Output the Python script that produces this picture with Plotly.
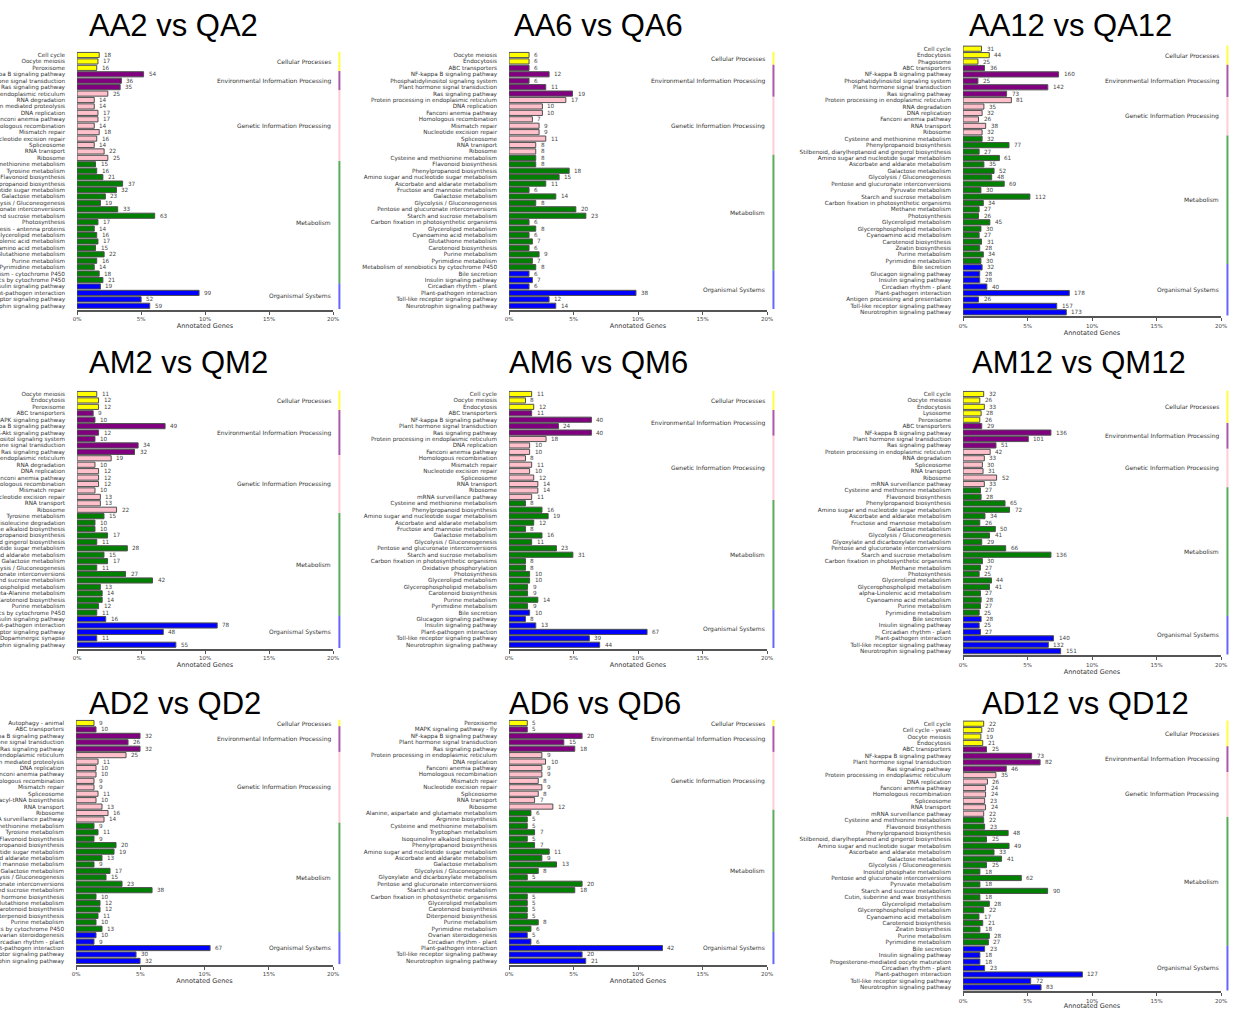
import plotly.graph_objects as go

# ---------------- data ----------------
GROUPS = ["Cellular Processes", "Environmental Information Processing",
          "Genetic Information Processing", "Metabolism", "Organismal Systems"]
BAR_COLORS = ["#FFFF00", "#800080", "#FFC0CB", "#008000", "#0000FF"]
LINE_COLORS = ["rgba(255,255,0,0.75)", "rgba(128,0,128,0.65)", "rgba(255,192,203,0.8)",
               "rgba(0,128,0,0.65)", "rgba(0,0,255,0.6)"]

aa2_labels = ["Cell cycle", "Oocyte meiosis", "Peroxisome", "NF-kappa B signaling pathway",
              "Plant hormone signal transduction", "Ras signaling pathway",
              "Protein processing in endoplasmic reticulum", "RNA degradation",
              "Ubiquitin mediated proteolysis", "DNA replication", "Fanconi anemia pathway",
              "Homologous recombination", "Mismatch repair", "Nucleotide excision repair",
              "Spliceosome", "RNA transport", "Ribosome", "Cysteine and methionine metabolism",
              "Tyrosine metabolism", "Flavonoid biosynthesis", "Phenylpropanoid biosynthesis",
              "Amino sugar and nucleotide sugar metabolism", "Galactose metabolism",
              "Glycolysis / Gluconeogenesis", "Pentose and glucuronate interconversions",
              "Starch and sucrose metabolism", "Photosynthesis", "Photosynthesis - antenna proteins",
              "Glycerolipid metabolism", "alpha-Linolenic acid metabolism",
              "Cyanoamino acid metabolism", "Glutathione metabolism", "Purine metabolism",
              "Pyrimidine metabolism", "Drug metabolism - cytochrome P450",
              "Metabolism of xenobiotics by cytochrome P450", "Insulin signaling pathway",
              "Plant-pathogen interaction", "Toll-like receptor signaling pathway",
              "Neurotrophin signaling pathway"]
aa2_counts = [18, 17, 16, 54, 36, 35, 25, 14, 14, 17, 17, 14, 18, 16, 14, 22, 25, 15, 16, 21,
              37, 32, 23, 19, 33, 63, 17, 14, 16, 17, 15, 22, 16, 14, 18, 21, 19, 99, 52, 59]
aa2_sizes = [3, 3, 11, 19, 4]
aa2_total = 1038

aa6_labels = ["Oocyte meiosis", "Endocytosis", "ABC transporters", "NF-kappa B signaling pathway",
              "Phosphatidylinositol signaling system", "Plant hormone signal transduction",
              "Ras signaling pathway", "Protein processing in endoplasmic reticulum",
              "DNA replication", "Fanconi anemia pathway", "Homologous recombination",
              "Mismatch repair", "Nucleotide excision repair", "Spliceosome", "RNA transport",
              "Ribosome", "Cysteine and methionine metabolism", "Flavonoid biosynthesis",
              "Phenylpropanoid biosynthesis", "Amino sugar and nucleotide sugar metabolism",
              "Ascorbate and aldarate metabolism", "Fructose and mannose metabolism",
              "Galactose metabolism", "Glycolysis / Gluconeogenesis",
              "Pentose and glucuronate interconversions", "Starch and sucrose metabolism",
              "Carbon fixation in photosynthetic organisms", "Glycerolipid metabolism",
              "Cyanoamino acid metabolism", "Glutathione metabolism", "Carotenoid biosynthesis",
              "Purine metabolism", "Pyrimidine metabolism",
              "Metabolism of xenobiotics by cytochrome P450", "Bile secretion",
              "Insulin signaling pathway", "Circadian rhythm - plant", "Plant-pathogen interaction",
              "Toll-like receptor signaling pathway", "Neurotrophin signaling pathway"]
aa6_counts = [6, 6, 6, 12, 6, 11, 19, 17, 10, 10, 7, 9, 9, 11, 8, 8, 8, 8, 18, 15,
              11, 6, 14, 8, 20, 23, 6, 8, 6, 7, 6, 9, 7, 8, 6, 7, 6, 38, 12, 14]
aa6_sizes = [2, 5, 9, 18, 6]
aa6_total = 386

aa12_labels = ["Cell cycle", "Endocytosis", "Phagosome", "ABC transporters",
               "NF-kappa B signaling pathway", "Phosphatidylinositol signaling system",
               "Plant hormone signal transduction", "Ras signaling pathway",
               "Protein processing in endoplasmic reticulum", "RNA degradation", "DNA replication",
               "Fanconi anemia pathway", "RNA transport", "Ribosome",
               "Cysteine and methionine metabolism", "Phenylpropanoid biosynthesis",
               "Stilbenoid, diarylheptanoid and gingerol biosynthesis",
               "Amino sugar and nucleotide sugar metabolism", "Ascorbate and aldarate metabolism",
               "Galactose metabolism", "Glycolysis / Gluconeogenesis",
               "Pentose and glucuronate interconversions", "Pyruvate metabolism",
               "Starch and sucrose metabolism", "Carbon fixation in photosynthetic organisms",
               "Methane metabolism", "Photosynthesis", "Glycerolipid metabolism",
               "Glycerophospholipid metabolism", "Cyanoamino acid metabolism",
               "Carotenoid biosynthesis", "Zeatin biosynthesis", "Purine metabolism",
               "Pyrimidine metabolism", "Bile secretion", "Glucagon signaling pathway",
               "Insulin signaling pathway", "Circadian rhythm - plant", "Plant-pathogen interaction",
               "Antigen processing and presentation", "Toll-like receptor signaling pathway",
               "Neurotrophin signaling pathway"]
aa12_counts = [31, 44, 25, 36, 160, 25, 142, 73, 81, 35, 32, 26, 38, 32, 32, 77, 27, 61, 35, 52,
               48, 69, 30, 112, 34, 27, 26, 45, 30, 27, 31, 28, 34, 30, 32, 28, 28, 40, 178, 26,
               157, 173]
aa12_sizes = [3, 5, 6, 20, 8]
aa12_total = 2160

am2_labels = ["Oocyte meiosis", "Endocytosis", "Peroxisome", "ABC transporters",
              "MAPK signaling pathway", "NF-kappa B signaling pathway", "PI3K-Akt signaling pathway",
              "Phosphatidylinositol signaling system", "Plant hormone signal transduction",
              "Ras signaling pathway", "Protein processing in endoplasmic reticulum",
              "RNA degradation", "DNA replication", "Fanconi anemia pathway",
              "Homologous recombination", "Mismatch repair", "Nucleotide excision repair",
              "RNA transport", "Ribosome", "Tyrosine metabolism",
              "Valine, leucine and isoleucine degradation", "Isoquinoline alkaloid biosynthesis",
              "Phenylpropanoid biosynthesis", "Stilbenoid, diarylheptanoid and gingerol biosynthesis",
              "Amino sugar and nucleotide sugar metabolism", "Ascorbate and aldarate metabolism",
              "Galactose metabolism", "Glycolysis / Gluconeogenesis",
              "Pentose and glucuronate interconversions", "Starch and sucrose metabolism",
              "Glycerophospholipid metabolism", "beta-Alanine metabolism", "Carotenoid biosynthesis",
              "Purine metabolism", "Metabolism of xenobiotics by cytochrome P450",
              "Insulin signaling pathway", "Plant-pathogen interaction",
              "Toll-like receptor signaling pathway", "Dopaminergic synapse",
              "Neurotrophin signaling pathway"]
am2_counts = [11, 12, 12, 9, 10, 49, 12, 10, 34, 32, 19, 10, 12, 12, 12, 10, 13, 13, 22, 15,
              10, 10, 17, 11, 28, 15, 17, 11, 27, 42, 13, 14, 14, 12, 11, 16, 78, 48, 11, 55]
am2_sizes = [3, 7, 9, 16, 5]
am2_total = 712

am6_labels = ["Cell cycle", "Oocyte meiosis", "Endocytosis", "ABC transporters",
              "NF-kappa B signaling pathway", "Plant hormone signal transduction",
              "Ras signaling pathway", "Protein processing in endoplasmic reticulum",
              "DNA replication", "Fanconi anemia pathway", "Homologous recombination",
              "Mismatch repair", "Nucleotide excision repair", "Spliceosome", "RNA transport",
              "Ribosome", "mRNA surveillance pathway", "Cysteine and methionine metabolism",
              "Phenylpropanoid biosynthesis", "Amino sugar and nucleotide sugar metabolism",
              "Ascorbate and aldarate metabolism", "Fructose and mannose metabolism",
              "Galactose metabolism", "Glycolysis / Gluconeogenesis",
              "Pentose and glucuronate interconversions", "Starch and sucrose metabolism",
              "Carbon fixation in photosynthetic organisms", "Oxidative phosphorylation",
              "Photosynthesis", "Glycerolipid metabolism", "Glycerophospholipid metabolism",
              "Carotenoid biosynthesis", "Purine metabolism", "Pyrimidine metabolism",
              "Bile secretion", "Glucagon signaling pathway", "Insulin signaling pathway",
              "Plant-pathogen interaction", "Toll-like receptor signaling pathway",
              "Neurotrophin signaling pathway"]
am6_counts = [11, 8, 12, 11, 40, 24, 40, 18, 10, 10, 8, 11, 10, 12, 14, 14, 11, 8, 16, 19,
              12, 8, 16, 11, 23, 31, 8, 8, 10, 10, 9, 9, 14, 9, 10, 8, 13, 67, 39, 44]
am6_sizes = [3, 4, 10, 17, 6]
am6_total = 626

am12_labels = ["Cell cycle", "Oocyte meiosis", "Endocytosis", "Lysosome", "Peroxisome",
               "ABC transporters", "NF-kappa B signaling pathway",
               "Plant hormone signal transduction", "Ras signaling pathway",
               "Protein processing in endoplasmic reticulum", "RNA degradation", "Spliceosome",
               "RNA transport", "Ribosome", "mRNA surveillance pathway",
               "Cysteine and methionine metabolism", "Flavonoid biosynthesis",
               "Phenylpropanoid biosynthesis", "Amino sugar and nucleotide sugar metabolism",
               "Ascorbate and aldarate metabolism", "Fructose and mannose metabolism",
               "Galactose metabolism", "Glycolysis / Gluconeogenesis",
               "Glyoxylate and dicarboxylate metabolism", "Pentose and glucuronate interconversions",
               "Starch and sucrose metabolism", "Carbon fixation in photosynthetic organisms",
               "Methane metabolism", "Photosynthesis", "Glycerolipid metabolism",
               "Glycerophospholipid metabolism", "alpha-Linolenic acid metabolism",
               "Cyanoamino acid metabolism", "Purine metabolism", "Pyrimidine metabolism",
               "Bile secretion", "Insulin signaling pathway", "Circadian rhythm - plant",
               "Plant-pathogen interaction", "Toll-like receptor signaling pathway",
               "Neurotrophin signaling pathway"]
am12_counts = [32, 26, 33, 28, 26, 29, 136, 101, 51, 42, 33, 30, 31, 52, 33, 27, 28, 65, 72, 34,
               26, 50, 41, 29, 66, 136, 30, 27, 25, 44, 41, 27, 28, 27, 25, 28, 25, 27, 140, 132,
               151]
am12_sizes = [5, 4, 6, 20, 6]
am12_total = 1995

ad2_labels = ["Autophagy - animal", "ABC transporters", "NF-kappa B signaling pathway",
              "Plant hormone signal transduction", "Ras signaling pathway",
              "Protein processing in endoplasmic reticulum", "Ubiquitin mediated proteolysis",
              "DNA replication", "Fanconi anemia pathway", "Homologous recombination",
              "Mismatch repair", "Spliceosome", "Aminoacyl-tRNA biosynthesis", "RNA transport",
              "Ribosome", "mRNA surveillance pathway", "Cysteine and methionine metabolism",
              "Tyrosine metabolism", "Flavonoid biosynthesis", "Phenylpropanoid biosynthesis",
              "Amino sugar and nucleotide sugar metabolism", "Ascorbate and aldarate metabolism",
              "Fructose and mannose metabolism", "Galactose metabolism",
              "Glycolysis / Gluconeogenesis", "Pentose and glucuronate interconversions",
              "Starch and sucrose metabolism", "Steroid hormone biosynthesis",
              "Glutathione metabolism", "Carotenoid biosynthesis", "Diterpenoid biosynthesis",
              "Purine metabolism", "Metabolism of xenobiotics by cytochrome P450",
              "Ovarian steroidogenesis", "Circadian rhythm - plant", "Plant-pathogen interaction",
              "Toll-like receptor signaling pathway", "Neurotrophin signaling pathway"]
ad2_counts = [9, 10, 32, 26, 32, 25, 11, 10, 10, 9, 9, 11, 10, 13, 16, 14, 9, 11, 9, 20,
              19, 13, 9, 17, 15, 23, 38, 10, 12, 12, 11, 10, 13, 10, 9, 67, 30, 32]
ad2_sizes = [1, 4, 11, 17, 5]
ad2_total = 642

ad6_labels = ["Peroxisome", "MAPK signaling pathway - fly", "NF-kappa B signaling pathway",
              "Plant hormone signal transduction", "Ras signaling pathway",
              "Protein processing in endoplasmic reticulum", "DNA replication",
              "Fanconi anemia pathway", "Homologous recombination", "Mismatch repair",
              "Nucleotide excision repair", "Spliceosome", "RNA transport", "Ribosome",
              "Alanine, aspartate and glutamate metabolism", "Arginine biosynthesis",
              "Cysteine and methionine metabolism", "Tryptophan metabolism",
              "Isoquinoline alkaloid biosynthesis", "Phenylpropanoid biosynthesis",
              "Amino sugar and nucleotide sugar metabolism", "Ascorbate and aldarate metabolism",
              "Galactose metabolism", "Glycolysis / Gluconeogenesis",
              "Glyoxylate and dicarboxylate metabolism", "Pentose and glucuronate interconversions",
              "Starch and sucrose metabolism", "Carbon fixation in photosynthetic organisms",
              "Glycerolipid metabolism", "Carotenoid biosynthesis", "Diterpenoid biosynthesis",
              "Purine metabolism", "Pyrimidine metabolism", "Ovarian steroidogenesis",
              "Circadian rhythm - plant", "Plant-pathogen interaction",
              "Toll-like receptor signaling pathway", "Neurotrophin signaling pathway"]
ad6_counts = [5, 5, 20, 15, 18, 9, 10, 9, 9, 8, 9, 8, 7, 12, 6, 5, 5, 7, 5, 7,
              11, 9, 13, 8, 5, 20, 18, 5, 5, 5, 5, 8, 6, 5, 6, 42, 20, 21]
ad6_sizes = [1, 4, 9, 19, 5]
ad6_total = 353

ad12_labels = ["Cell cycle", "Cell cycle - yeast", "Oocyte meiosis", "Endocytosis",
               "ABC transporters", "NF-kappa B signaling pathway",
               "Plant hormone signal transduction", "Ras signaling pathway",
               "Protein processing in endoplasmic reticulum", "DNA replication",
               "Fanconi anemia pathway", "Homologous recombination", "Spliceosome",
               "RNA transport", "mRNA surveillance pathway", "Cysteine and methionine metabolism",
               "Flavonoid biosynthesis", "Phenylpropanoid biosynthesis",
               "Stilbenoid, diarylheptanoid and gingerol biosynthesis",
               "Amino sugar and nucleotide sugar metabolism", "Ascorbate and aldarate metabolism",
               "Galactose metabolism", "Glycolysis / Gluconeogenesis",
               "Inositol phosphate metabolism", "Pentose and glucuronate interconversions",
               "Pyruvate metabolism", "Starch and sucrose metabolism",
               "Cutin, suberine and wax biosynthesis", "Glycerolipid metabolism",
               "Glycerophospholipid metabolism", "Cyanoamino acid metabolism",
               "Carotenoid biosynthesis", "Zeatin biosynthesis", "Purine metabolism",
               "Pyrimidine metabolism", "Bile secretion", "Insulin signaling pathway",
               "Progesterone-mediated oocyte maturation", "Circadian rhythm - plant",
               "Plant-pathogen interaction", "Toll-like receptor signaling pathway",
               "Neurotrophin signaling pathway"]
ad12_counts = [22, 20, 19, 21, 25, 73, 82, 46, 35, 26, 24, 24, 23, 24, 22, 22, 23, 48, 25, 49,
               33, 41, 25, 18, 62, 18, 90, 18, 28, 22, 17, 21, 18, 28, 27, 23, 18, 18, 23, 127,
               72, 83]
ad12_sizes = [4, 4, 7, 20, 7]
ad12_total = 1372

panels = [
    ("AA2 vs QA2", aa2_labels, aa2_counts, aa2_sizes, aa2_total),
    ("AA6 vs QA6", aa6_labels, aa6_counts, aa6_sizes, aa6_total),
    ("AA12 vs QA12", aa12_labels, aa12_counts, aa12_sizes, aa12_total),
    ("AM2 vs QM2", am2_labels, am2_counts, am2_sizes, am2_total),
    ("AM6 vs QM6", am6_labels, am6_counts, am6_sizes, am6_total),
    ("AM12 vs QM12", am12_labels, am12_counts, am12_sizes, am12_total),
    ("AD2 vs QD2", ad2_labels, ad2_counts, ad2_sizes, ad2_total),
    ("AD6 vs QD6", ad6_labels, ad6_counts, ad6_sizes, ad6_total),
    ("AD12 vs QD12", ad12_labels, ad12_counts, ad12_sizes, ad12_total),
]

x_ticks = [0, 5, 10, 15, 20]
x_ticktext = ["0%", "5%", "10%", "15%", "20%"]

# ---------------- layout geometry (pixels) ----------------
W, H = 1235, 1010
STEP = 6.43
# x0, x1, first bar center y, title left x, title center y
geom = [
    (77, 333, 55, 87, 25), (509, 767, 55, 512, 25), (963, 1221, 48.7, 967, 25),
    (77, 333, 394, 87, 362), (509, 767, 394, 507, 362), (963, 1221, 394, 970, 362),
    (76, 333, 723, 87, 703), (509, 767, 723, 507, 703), (963, 1221, 723.7, 980, 703),
]

fig = go.Figure()
annotations = []
shapes = []
layout_axes = {}

LABEL_FONT = dict(family="DejaVu Sans", size=5.7, color="#333333")

for k, ((title, labels, counts, sizes, total), (x0, x1, c0, tx, ty)) in enumerate(zip(panels, geom), start=1):
    n = len(labels)
    xa = "x" if k == 1 else f"x{k}"
    ya = "y" if k == 1 else f"y{k}"
    idx = list(range(n))
    pct = [c / total * 100 for c in counts]
    row_group = []
    for g, s in enumerate(sizes):
        row_group += [g] * s
    colors = [BAR_COLORS[g] for g in row_group]

    fig.add_trace(go.Bar(
        x=pct, y=idx, orientation="h", width=0.8,
        marker=dict(color=colors, line=dict(color="#505050", width=1)),
        xaxis=xa, yaxis=ya, hoverinfo="skip", showlegend=False,
    ))

    for j, (p, c) in enumerate(zip(pct, counts)):
        annotations.append(dict(
            x=p, y=j, xref=xa, yref=ya, text=str(c), showarrow=False,
            xanchor="left", yanchor="middle", xshift=3,
            font=dict(family="DejaVu Sans", size=5.7, color="#444444"),
        ))

    start = 0
    for g, s in enumerate(sizes):
        end = start + s - 1
        annotations.append(dict(
            x=1, y=(start + end) / 2, xref=f"{xa} domain", yref=ya, text=GROUPS[g],
            showarrow=False, xanchor="right", yanchor="middle",
            font=dict(family="DejaVu Sans", size=6, color="#333333"),
        ))
        shapes.append(dict(
            type="line", xref=f"{xa} domain", yref=ya, x0=1.025, x1=1.025,
            y0=start - 0.5, y1=end + 0.5,
            line=dict(color=LINE_COLORS[g], width=2),
        ))
        start += s

    annotations.append(dict(
        x=tx / W, y=1 - ty / H, xref="paper", yref="paper", text=title, showarrow=False,
        xanchor="left", yanchor="middle",
        font=dict(family="Liberation Sans, Arial, sans-serif", size=31, color="#000000"),
    ))

    y_top = c0 - 0.62 * STEP
    y_bot = c0 + (n - 1 + 0.62) * STEP
    key = "" if k == 1 else str(k)
    layout_axes[f"xaxis{key}"] = dict(
        domain=[x0 / W, x1 / W], anchor=ya, range=[0, 20],
        tickmode="array", tickvals=x_ticks, ticktext=x_ticktext,
        showline=True, linecolor="#555555", linewidth=2,
        ticks="outside", ticklen=3, tickwidth=1, tickcolor="#555555",
        tickfont=dict(family="DejaVu Sans", size=5.5, color="#444444"),
        title=dict(text="Annotated Genes", standoff=2,
                   font=dict(family="DejaVu Sans", size=6.5, color="#333333")),
        showgrid=False, zeroline=False, automargin=False, fixedrange=True,
    )
    layout_axes[f"yaxis{key}"] = dict(
        domain=[1 - y_bot / H, 1 - y_top / H], anchor=xa,
        range=[n - 1 + 0.62, -0.62],
        tickmode="array", tickvals=idx, ticktext=labels,
        ticks="", ticklabelstandoff=11,
        tickfont=LABEL_FONT,
        showline=False, showgrid=False, zeroline=False, automargin=False, fixedrange=True,
    )

fig.update_layout(
    template="none",
    width=W, height=H,
    margin=dict(l=0, r=0, t=0, b=0),
    paper_bgcolor="white", plot_bgcolor="white",
    showlegend=False, bargap=0.2,
    font=dict(family="DejaVu Sans"),
    annotations=annotations, shapes=shapes,
    **layout_axes,
)

fig.write_html(
    "out.html",
    config={"displayModeBar": False},
    post_script="document.body.style.margin='0';document.body.style.overflow='hidden';",
)
